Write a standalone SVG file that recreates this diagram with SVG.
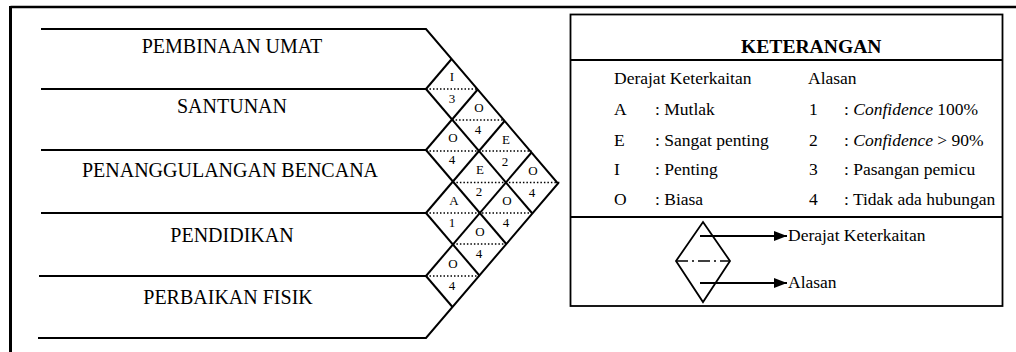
<svg xmlns="http://www.w3.org/2000/svg" width="1016" height="352" viewBox="0 0 1016 352">
<style>
.ln{stroke:#000;stroke-width:2;fill:none}
.th{stroke:#000;stroke-width:1.8;fill:none}
.dot{stroke:#000;stroke-width:1.3;stroke-dasharray:1.5 2;fill:none}
.row{font-family:"Liberation Serif","Times New Roman",serif;font-size:20px;text-anchor:middle;fill:#000}
.cell{font-family:"Liberation Serif","Times New Roman",serif;font-size:13px;text-anchor:middle;fill:#000}
.lg{font-family:"Liberation Serif","Times New Roman",serif;font-size:17.5px;fill:#000}
.ttl{font-family:"Liberation Serif","Times New Roman",serif;font-size:19.6px;font-weight:bold;fill:#000}
</style>
<defs>
<marker id="ah" markerWidth="13" markerHeight="10" refX="13" refY="5" orient="auto" markerUnits="userSpaceOnUse">
<path d="M0,0 L13,5 L0,10 Z" fill="#000"/>
</marker>
</defs>
<rect width="1016" height="352" fill="#fff"/>
<g id="frame">
<line x1="10.5" y1="7" x2="1016" y2="7" stroke="#000" stroke-width="2.5"/>
<line x1="10.5" y1="6" x2="10.5" y2="352" stroke="#000" stroke-width="3"/>
</g>
<g id="rows">
<polyline class="ln" points="41,29 426,29 558,183.5 426,338 38,338"/>
<line class="ln" x1="41" y1="89" x2="426" y2="89"/>
<line class="ln" x1="41" y1="150" x2="426" y2="150"/>
<line class="ln" x1="41" y1="213" x2="426" y2="213"/>
<line class="ln" x1="39" y1="276" x2="426" y2="276"/>
</g>
<g id="row-pembinaan"><text class="row" x="232" y="53">PEMBINAAN UMAT</text></g>
<g id="row-santunan"><text class="row" x="232" y="113">SANTUNAN</text></g>
<g id="row-penanggulangan"><text class="row" x="230" y="177">PENANGGULANGAN BENCANA</text></g>
<g id="row-pendidikan"><text class="row" x="232" y="242">PENDIDIKAN</text></g>
<g id="row-perbaikan"><text class="row" x="228" y="304">PERBAIKAN FISIK</text></g>
<g id="grid">
<line class="ln" x1="426" y1="89" x2="532.4" y2="213.5"/>
<line class="ln" x1="426" y1="150" x2="506.3" y2="244"/>
<line class="ln" x1="426" y1="213" x2="479.4" y2="275.5"/>
<line class="ln" x1="426" y1="276" x2="452.5" y2="307"/>
<line class="ln" x1="426" y1="89" x2="451.6" y2="59"/>
<line class="ln" x1="426" y1="150" x2="477.7" y2="89.5"/>
<line class="ln" x1="426" y1="213" x2="504.6" y2="121"/>
<line class="ln" x1="426" y1="276" x2="531.5" y2="152.5"/>
<line class="dot" x1="426" y1="89" x2="477.7" y2="89"/>
<line class="dot" x1="452.1" y1="120" x2="504.6" y2="120"/>
<line class="dot" x1="426" y1="151" x2="531.5" y2="151"/>
<line class="dot" x1="452.9" y1="182.5" x2="560" y2="182.5"/>
<line class="dot" x1="426" y1="213" x2="532.4" y2="213"/>
<line class="dot" x1="452.9" y1="244" x2="506.3" y2="244"/>
<line class="dot" x1="426" y1="276" x2="479.4" y2="276"/>
</g>
<g id="cell-0-1"><text class="cell" x="452" y="81">I</text><text class="cell" x="452" y="103">3</text></g>
<g id="cell-0-2"><text class="cell" x="479" y="112">O</text><text class="cell" x="478" y="134">4</text></g>
<g id="cell-1-2"><text class="cell" x="453" y="142">O</text><text class="cell" x="452" y="164">4</text></g>
<g id="cell-0-3"><text class="cell" x="506" y="144">E</text><text class="cell" x="505" y="166">2</text></g>
<g id="cell-1-3"><text class="cell" x="480" y="174">E</text><text class="cell" x="479" y="196">2</text></g>
<g id="cell-0-4"><text class="cell" x="533" y="175">O</text><text class="cell" x="532" y="197">4</text></g>
<g id="cell-2-3"><text class="cell" x="454" y="205">A</text><text class="cell" x="452" y="227">1</text></g>
<g id="cell-1-4"><text class="cell" x="507" y="205">O</text><text class="cell" x="506" y="227">4</text></g>
<g id="cell-2-4"><text class="cell" x="480" y="236">O</text><text class="cell" x="479" y="258">4</text></g>
<g id="cell-3-4"><text class="cell" x="453" y="268">O</text><text class="cell" x="452" y="290">4</text></g>
<g id="legend">
<rect class="th" x="570.5" y="14.5" width="432" height="291.5"/>
<line class="th" x1="570.5" y1="60" x2="1002.5" y2="60"/>
<line class="th" x1="570.5" y1="217" x2="1002.5" y2="217"/>
<text class="ttl" x="741" y="53">KETERANGAN</text>
<text class="lg" x="614" y="84">Derajat Keterkaitan</text>
<text class="lg" x="808" y="84">Alasan</text>
<text class="lg" x="614" y="115">A</text><text class="lg" x="655" y="115">: Mutlak</text>
<text class="lg" x="614" y="146">E</text><text class="lg" x="655" y="146">: Sangat penting</text>
<text class="lg" x="614" y="175">I</text><text class="lg" x="655" y="175">: Penting</text>
<text class="lg" x="614" y="205">O</text><text class="lg" x="655" y="205">: Biasa</text>
<text class="lg" x="809" y="115">1</text><text class="lg" x="844" y="115">: <tspan font-style="italic">Confidence</tspan> 100%</text>
<text class="lg" x="809" y="146">2</text><text class="lg" x="844" y="146">: <tspan font-style="italic">Confidence</tspan> &gt; 90%</text>
<text class="lg" x="809" y="175">3</text><text class="lg" x="844" y="175">: Pasangan pemicu</text>
<text class="lg" x="809" y="205">4</text><text class="lg" x="844" y="205">: Tidak ada hubungan</text>
</g>
<g id="legend-symbol">
<polygon class="th" points="703,222 730,261 703,302 676,261"/>
<line x1="676" y1="261" x2="730" y2="261" stroke="#000" stroke-width="1.3" stroke-dasharray="12 4 2 4"/>
</g>
<g id="connectors">
<line x1="700" y1="236" x2="787" y2="236" stroke="#000" stroke-width="1.8" marker-end="url(#ah)"/>
<line x1="700" y1="283" x2="787" y2="283" stroke="#000" stroke-width="1.8" marker-end="url(#ah)"/>
</g>
<g id="legend-labels">
<text class="lg" x="788" y="241">Derajat Keterkaitan</text>
<text class="lg" x="788" y="288">Alasan</text>
</g>
</svg>
